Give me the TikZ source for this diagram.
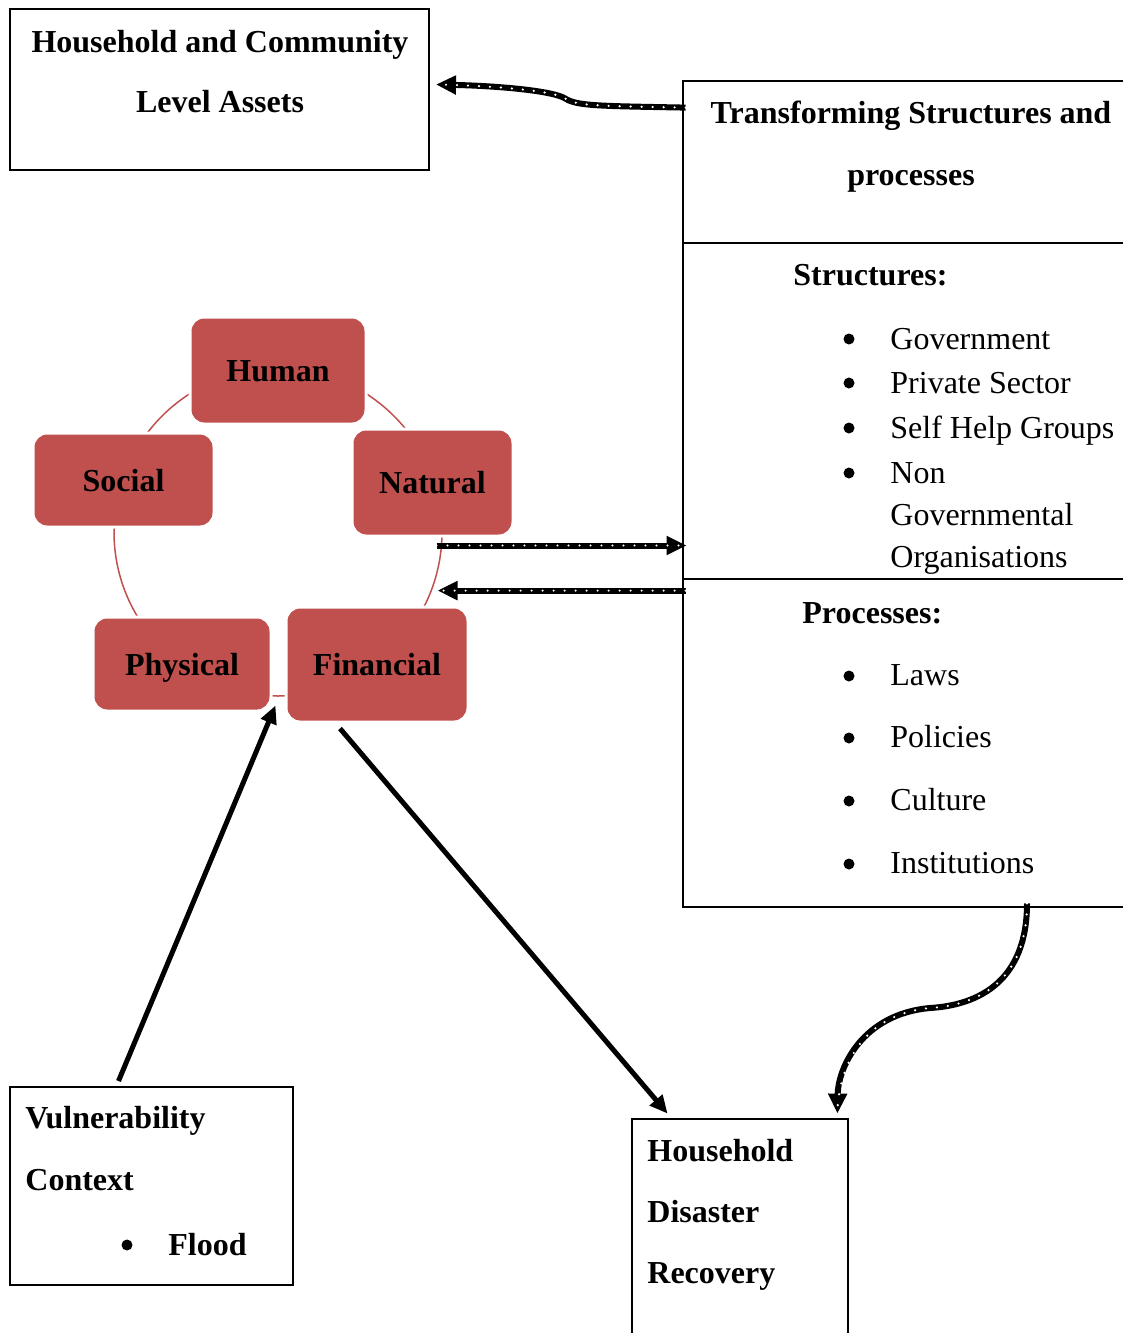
\documentclass[tikz,border=0pt]{standalone}
\usepackage{fontspec}
\setmainfont{Liberation Serif}
\usepackage{xcolor}
\usetikzlibrary{calc, positioning, arrows.meta}
\definecolor{capred}{HTML}{C0504D}

\begin{document}
\begin{tikzpicture}[x=0.5pt, y=-0.5pt, font=\fontsize{16}{19}\selectfont,
  frame/.style={inner sep=0pt},
  capital/.style={fill=capred, draw=white, line width=1.5pt, rounded corners=7pt, inner sep=0pt,
    font=\fontsize{16}{19}\selectfont\bfseries, text height=11pt, text depth=0pt},
  head/.style={anchor=base west, inner sep=0pt, font=\fontsize{16}{19}\selectfont\bfseries},
  title/.style={anchor=base, inner sep=0pt, font=\fontsize{16}{19}\selectfont\bfseries},
  item/.style={anchor=base west, inner sep=0pt},
  bul/.style={circle, fill, inner sep=0pt, minimum size=5.5pt},
  dotarrow/.style={line width=3pt, -{Triangle[length=10pt,width=9pt]},
    postaction={draw=white, line width=1.2pt, line cap=round, dash pattern=on 0pt off 5.5pt, -}},
  bigarrow/.style={line width=2.5pt, -{Triangle[length=9pt,width=8pt]}}]
\useasboundingbox (0,0) rectangle (1123,1333);

% frames
\node[frame, draw, line width=1pt, minimum width=209.5pt, minimum height=80.5pt] (HC) at (219.5,89.5) {};
\node[frame, minimum width=220pt, minimum height=81pt] (TS) at (903,162) {};
\node[frame, minimum width=220pt, minimum height=168pt] (ST) at (903,411) {};
\node[frame, minimum width=220pt, minimum height=164pt] (PR) at (903,743) {};
\node[frame, draw, line width=1pt, minimum width=141.5pt, minimum height=99pt] (VC) at (151.5,1186) {};
\node[frame, minimum width=108pt, minimum height=107pt] (HD) at (740,1226) {};
\draw[line width=1pt] (TS.north east) -- (TS.north west) -- (PR.south west) -- (PR.south east);
\draw[line width=1pt] (TS.south west) -- (TS.south east);
\draw[line width=1pt] (ST.south west) -- (ST.south east);
\draw[line width=1pt] (HD.south west) -- (HD.north west) -- (HD.north east) -- (HD.south east);

% texts in frames
\node[title] (hc1) at (220,52) {Household and Community};
\node[title] (hc2) at (220,112) {Level Assets};
\node[title] (ts1) at (911,123) {Transforming Structures and};
\node[title] (ts2) at (911,185) {processes};
\node[head] (st0) at (793,285) {Structures:};
\node[bul] (sb1) at (849,339) {};
\node[bul] (sb2) at (849,383) {};
\node[bul] (sb3) at (849,428) {};
\node[bul] (sb4) at (849,473) {};
\node[item] (st1) at (890,349) {Government};
\node[item] (st2) at (890,393) {Private Sector};
\node[item] (st3) at (890,438) {Self Help Groups};
\node[item] (st4) at (890,483) {Non};
\node[item] (st5) at (890,525) {Governmental};
\node[item] (st6) at (890,567) {Organisations};
\node[head] (pr0) at (802,623) {Processes:};
\node[bul] (pb1) at (849,676) {};
\node[bul] (pb2) at (849,738) {};
\node[bul] (pb3) at (849,801) {};
\node[bul] (pb4) at (849,864) {};
\node[item] (pr1) at (890,685) {Laws};
\node[item] (pr2) at (890,747) {Policies};
\node[item] (pr3) at (890,810) {Culture};
\node[item] (pr4) at (890,873) {Institutions};
\node[head] (vc1) at (25,1128) {Vulnerability};
\node[head] (vc2) at (25,1190) {Context};
\node[bul] (vb1) at (127,1245) {};
\node[head] (vc3) at (168,1255) {Flood};
\node[head] (hd1) at (647,1161) {Household};
\node[head] (hd2) at (647,1222) {Disaster};
\node[head] (hd3) at (647,1283) {Recovery};

% capitals
\draw[capred, line width=0.75pt] (278,532) circle[radius=82pt];
\node[capital, minimum width=88pt, minimum height=53.5pt] (Hu) at (278,370.5) {Human};
\node[capital, minimum width=90.5pt, minimum height=47pt] (So) at (123.5,480) {Social};
\node[capital, minimum width=80.5pt, minimum height=53.5pt] (Na) at (432.5,482.5) {Natural};
\node[capital, minimum width=89pt, minimum height=47pt] (Ph) at (182,664) {Physical};
\node[capital, minimum width=91pt, minimum height=57.5pt] (Fi) at (377,664.5) {Financial};

% arrows
\draw[dotarrow] ([shift={(3,27)}]TS.north west) .. controls (600,106) and (578,106) .. (566,99)
  .. controls (555,91) and (500,86) .. ([shift={(6,-5)}]HC.east);
\draw[dotarrow] ([shift={(4,8)}]Na.south) -- ([shift={(4,8)}]Na.south -| ST.west);
\draw[dotarrow] ([shift={(3,12)}]PR.north west) -- ([shift={(3,12)}]PR.north west -| Na.south east) -- ++(-80,0);
\draw[dotarrow] ([shift={(124,-4)}]PR.south) .. controls (1027,980) and (980,1005) .. (930,1008)
  .. controls (862,1014) and (838,1068) .. ([shift={(-11,-5)}]HD.north east);
\draw[bigarrow] ([shift={(-33,-5)}]VC.north) -- ([shift={(3,-7)}]Ph.south east);
\draw[bigarrow] ([shift={(-37,5)}]Fi.south) -- ([shift={(36,-5)}]HD.north west);
\end{tikzpicture}
\end{document}
